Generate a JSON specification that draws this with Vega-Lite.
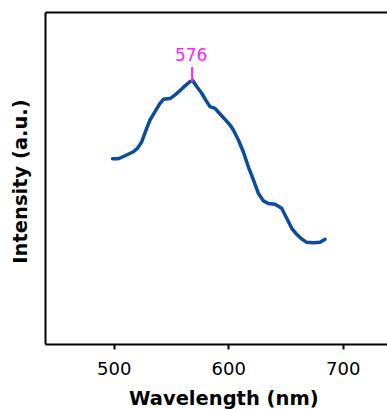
{
  "$schema": "https://vega.github.io/schema/vega-lite/v6.json",
  "width": 342,
  "height": 332,
  "autosize": {"type": "none"},
  "padding": {"left": 45, "top": 12, "right": 0, "bottom": 65},
  "background": "white",
  "config": {
    "view": {"stroke": null},
    "font": "DejaVu Sans",
    "axis": {
      "grid": false,
      "domainColor": "black",
      "domainWidth": 2,
      "tickColor": "black",
      "tickWidth": 2,
      "tickSize": 5,
      "labelFont": "DejaVu Sans",
      "labelColor": "black",
      "titleFont": "DejaVu Sans",
      "titleColor": "black"
    }
  },
  "datasets": {
    "spectrum": [
      {"wavelength": 499, "intensity": 56.2},
      {"wavelength": 504.1, "intensity": 56.2},
      {"wavelength": 509.9, "intensity": 57.1},
      {"wavelength": 517.2, "intensity": 58.3},
      {"wavelength": 520.7, "intensity": 59.3},
      {"wavelength": 524.5, "intensity": 61.3},
      {"wavelength": 528.8, "intensity": 65.3},
      {"wavelength": 531.7, "intensity": 67.8},
      {"wavelength": 536.1, "intensity": 70.3},
      {"wavelength": 540.5, "intensity": 72.8},
      {"wavelength": 543.4, "intensity": 74.0},
      {"wavelength": 549.2, "intensity": 74.2},
      {"wavelength": 553.6, "intensity": 75.3},
      {"wavelength": 557.9, "intensity": 76.6},
      {"wavelength": 562.3, "intensity": 78.0},
      {"wavelength": 566.7, "intensity": 79.3},
      {"wavelength": 569.0, "intensity": 79.6},
      {"wavelength": 572.5, "intensity": 77.8},
      {"wavelength": 576.9, "intensity": 75.8},
      {"wavelength": 581.2, "intensity": 73.3},
      {"wavelength": 584.1, "intensity": 71.8},
      {"wavelength": 588.5, "intensity": 71.3},
      {"wavelength": 592.9, "intensity": 69.6},
      {"wavelength": 597.2, "intensity": 68.0},
      {"wavelength": 601.6, "intensity": 66.3},
      {"wavelength": 604.5, "intensity": 64.8},
      {"wavelength": 608.9, "intensity": 61.8},
      {"wavelength": 613.2, "intensity": 58.3},
      {"wavelength": 617.6, "intensity": 53.8},
      {"wavelength": 622.0, "intensity": 49.9},
      {"wavelength": 626.3, "intensity": 45.9},
      {"wavelength": 630.7, "intensity": 43.6},
      {"wavelength": 635.1, "intensity": 42.8},
      {"wavelength": 640.9, "intensity": 42.6},
      {"wavelength": 646.7, "intensity": 41.4},
      {"wavelength": 651.1, "intensity": 38.4},
      {"wavelength": 655.5, "intensity": 35.4},
      {"wavelength": 659.8, "intensity": 33.6},
      {"wavelength": 664.2, "intensity": 32.2},
      {"wavelength": 668.6, "intensity": 31.2},
      {"wavelength": 674.4, "intensity": 31.1},
      {"wavelength": 680.2, "intensity": 31.2},
      {"wavelength": 684.6, "intensity": 32.1}
    ],
    "peak": [
      {"wavelength": 568.5, "low": 79.2, "high": 83.6, "labelpos": 85.5, "label": "576"}
    ]
  },
  "layer": [
    {
      "data": {"name": "spectrum"},
      "mark": {"type": "line", "color": "#0b4c9c", "strokeWidth": 3.5, "strokeCap": "round", "strokeJoin": "round"},
      "encoding": {
        "x": {
          "field": "wavelength", "type": "quantitative",
          "scale": {"domain": [440, 738.7], "nice": false, "zero": false},
          "axis": {
            "orient": "bottom",
            "values": [500, 600, 700],
            "labelFontSize": 18,
            "labelBaseline": "alphabetic",
            "labelPadding": 25,
            "title": "Wavelength (nm)",
            "titleFontSize": 19.5,
            "titleFontWeight": "bold",
            "titleBaseline": "alphabetic",
            "titleX": 178.3,
            "titleY": 60
          }
        },
        "y": {
          "field": "intensity", "type": "quantitative",
          "scale": {"domain": [0.8, 100.1], "nice": false, "zero": false},
          "axis": {
            "ticks": false,
            "labels": false,
            "title": "Intensity (a.u.)",
            "titleFontSize": 19.5,
            "titleFontWeight": "bold",
            "titleBaseline": "alphabetic",
            "titleAngle": -90,
            "titleAlign": "center",
            "titleX": -19,
            "titleY": 169
          }
        }
      }
    },
    {
      "data": {"name": "peak"},
      "mark": {"type": "rule", "color": "#ff22ff", "strokeWidth": 2},
      "encoding": {
        "x": {
          "field": "wavelength", "type": "quantitative",
          "axis": {"orient": "top", "ticks": false, "labels": false, "title": null, "domain": true}
        },
        "y": {"field": "low", "type": "quantitative"},
        "y2": {"field": "high"}
      }
    },
    {
      "data": {"name": "peak"},
      "mark": {"type": "text", "color": "#ff22ff", "fontSize": 17, "font": "DejaVu Sans", "baseline": "alphabetic", "align": "center", "dx": -1},
      "encoding": {
        "x": {"field": "wavelength", "type": "quantitative", "axis": null},
        "y": {"field": "labelpos", "type": "quantitative"},
        "text": {"field": "label"}
      }
    }
  ],
  "resolve": {"axis": {"x": "independent"}}
}
